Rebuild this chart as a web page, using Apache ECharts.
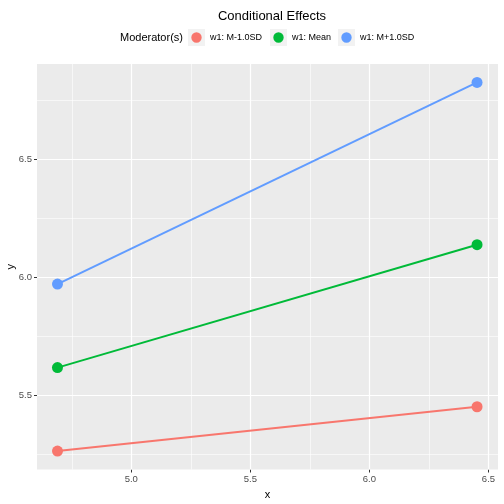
<!DOCTYPE html>
<html>
<head>
<meta charset="utf-8">
<script src="https://cdn.jsdelivr.net/npm/echarts@6/dist/echarts.min.js"></script>
<style>
  html, body { margin: 0; padding: 0; background: #fff; }
  #main { width: 504px; height: 504px; }
</style>
</head>
<body>
<div id="main"></div>
<script>
// data
var xValues = [4.69, 6.452];
var seriesNames = ['w1: M-1.0SD', 'w1: Mean', 'w1: M+1.0SD'];
var lowValues = [5.264, 5.452];
var meanValues = [5.618, 6.139];
var highValues = [5.972, 6.827];
var colors = ['#F8766D', '#00BA38', '#619CFF'];

var xTicks = [5.0, 5.5, 6.0, 6.5];
var xMinor = [4.75, 5.25, 5.75, 6.25];
var yTicks = [5.5, 6.0, 6.5];
var yMinor = [5.25, 5.75, 6.25, 6.75];

var chart = echarts.init(document.getElementById('main'));

function pairs(ys) {
    return xValues.map(function (x, i) { return [x, ys[i]]; });
}

function gridLines(axis, vals, width) {
    return vals.map(function (v) {
        var o = {}; o[axis] = v;
        o.lineStyle = { color: '#fff', width: width, type: 'solid' };
        return o;
    });
}

// circle inside a 17x17 box (degenerate corners keep the box size)
var keyIcon = 'path://M0,0L0.01,0L0,0.01Z M17,17L16.99,17L17,16.99Z M3.3,8.5A5.2,5.2 0 1 0 13.7,8.5A5.2,5.2 0 1 0 3.3,8.5Z';
var keyLeft = [188, 270, 338];

var dataSets = [lowValues, meanValues, highValues];

var series = dataSets.map(function (d, i) {
    return {
        name: seriesNames[i],
        type: 'line',
        data: pairs(d),
        symbol: 'circle',
        symbolSize: 11,
        z: 5,
        itemStyle: { color: colors[i], borderWidth: 0 },
        lineStyle: { color: colors[i], width: 2 }
    };
});

// background grid lines
series.unshift({
    name: 'grid',
    type: 'line',
    data: [],
    silent: true,
    z: 1,
    markLine: {
        silent: true,
        symbol: 'none',
        label: { show: false },
        animation: false,
        data: [].concat(
            gridLines('xAxis', xMinor, 0.6),
            gridLines('yAxis', yMinor, 0.6),
            gridLines('xAxis', xTicks, 1.2),
            gridLines('yAxis', yTicks, 1.2)
        )
    }
});

var legends = seriesNames.map(function (n, i) {
    return {
        data: [{ name: n, icon: keyIcon }],
        left: keyLeft[i],
        top: 29,
        itemWidth: 17,
        itemHeight: 17,
        padding: 0,
        selectedMode: false,
        itemStyle: { borderWidth: 0 },
        textStyle: { fontSize: 9, color: '#000', fontFamily: 'Liberation Sans' }
    };
});

var keyBoxes = keyLeft.map(function (l) {
    return {
        type: 'rect',
        left: l, top: 29, z: -1,
        shape: { width: 17, height: 17 },
        style: { fill: '#F2F2F2' }
    };
});

var option = {
    backgroundColor: '#fff',
    animation: false,
    title: [{
        text: 'Conditional Effects',
        left: 267, top: 5,
        textAlign: 'center',
        textStyle: { fontSize: 13, fontWeight: 'normal', color: '#000', fontFamily: 'Liberation Sans' }
    }, {
        text: 'Moderator(s)',
        left: 120, top: 32,
        padding: 0,
        textStyle: { fontSize: 11, fontWeight: 'normal', color: '#000', fontFamily: 'Liberation Sans' }
    }],
    legend: legends,
    graphic: keyBoxes,
    grid: {
        left: 37, right: 6, top: 64, bottom: 34.5,
        containLabel: false,
        outerBoundsMode: 'none',
        show: true, backgroundColor: '#EBEBEB', borderWidth: 0
    },
    xAxis: {
        type: 'value',
        min: 4.604, max: 6.54,
        name: 'x',
        nameLocation: 'middle',
        nameGap: 20,
        nameMoveOverlap: false,
        nameTextStyle: { fontSize: 11, color: '#000', fontFamily: 'Liberation Sans' },
        axisLine: { show: false },
        axisTick: { show: true, customValues: xTicks, length: 3, lineStyle: { color: '#333' } },
        axisLabel: {
            customValues: xTicks, fontSize: 9.5, color: '#4D4D4D', margin: 5,
            fontFamily: 'Liberation Sans',
            formatter: function (v) { return v.toFixed(1); }
        },
        splitLine: { show: false }
    },
    yAxis: {
        type: 'value',
        min: 5.186, max: 6.905,
        name: 'y',
        nameLocation: 'middle',
        nameGap: 21,
        nameMoveOverlap: false,
        nameTextStyle: { fontSize: 11, color: '#000', fontFamily: 'Liberation Sans' },
        axisLine: { show: false },
        axisTick: { show: true, customValues: yTicks, length: 3, lineStyle: { color: '#333' } },
        axisLabel: {
            customValues: yTicks, fontSize: 9.5, color: '#4D4D4D', margin: 5,
            fontFamily: 'Liberation Sans',
            formatter: function (v) { return v.toFixed(1); }
        },
        splitLine: { show: false }
    },
    series: series
};

chart.setOption(option);
window.addEventListener('resize', function () { chart.resize(); });
</script>
</body>
</html>
